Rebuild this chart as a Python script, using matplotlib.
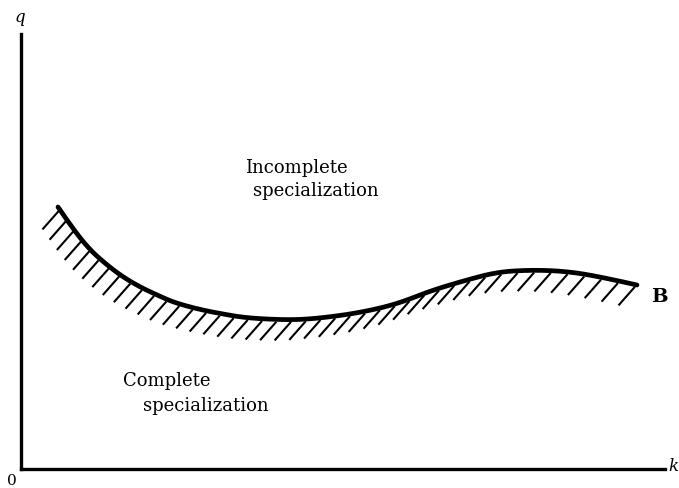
import matplotlib.pyplot as plt
import numpy as np

# curve B (k, q in pixel-like units from the origin)
k_vals = [37, 52, 69, 86, 102, 119, 136, 152, 169, 186, 202, 219, 242, 276,
          309, 342, 376, 409, 442, 476, 509, 542, 576, 616]
q_vals = [262, 240, 219, 204, 192, 182, 174, 167, 162, 158, 155, 152, 150, 149,
          152, 157, 165, 178, 188, 197, 199, 198, 193, 184]

fig = plt.figure(figsize=(6.79, 4.89), dpi=100)
ax = fig.add_axes([21 / 679, 19 / 489, 644 / 679, 435 / 489])
ax.set_xlim(0, 644)
ax.set_ylim(0, 435)
for s in ["top", "right"]:
    ax.spines[s].set_visible(False)
ax.spines["left"].set_linewidth(2.4)
ax.spines["bottom"].set_linewidth(2.4)
ax.set_xticks([])
ax.set_yticks([])

# smooth the drawn line: quadratic bezier pieces between midpoints of the read points
k = np.array(k_vals, float)
q = np.array(q_vals, float)
mk = np.concatenate([[k[0]], (k[1:-2] + k[2:-1]) / 2, [k[-1]]])
mq = np.concatenate([[q[0]], (q[1:-2] + q[2:-1]) / 2, [q[-1]]])
t = np.linspace(0, 1, 20)[:, None]
ck = ((1 - t) ** 2 * mk[:-1] + 2 * (1 - t) * t * k[1:-1] + t ** 2 * mk[1:]).T.ravel()
cq = ((1 - t) ** 2 * mq[:-1] + 2 * (1 - t) * t * q[1:-1] + t ** 2 * mq[1:]).T.ravel()
ax.plot(ck, cq, color="black", lw=3.4, solid_capstyle="round", solid_joinstyle="round")

# hatching on the lower side of the curve, gap widens a bit to the right
arc = np.concatenate([[0], np.cumsum(np.hypot(np.diff(ck), np.diff(cq)))])
s = 2.0
while s < arc[-1]:
    hx = np.interp(s, arc, ck)
    hy = np.interp(s, arc, cq)
    ax.plot([hx - 1, hx - 16], [hy - 3, hy - 20], color="black", lw=1.5)
    s += 12.5 + 5 * s / arc[-1]

serif = "DejaVu Serif"
ax.text(224, 470 - 168, "Incomplete", fontsize=13, family=serif, va="center")
ax.text(232, 470 - 191, "specialization", fontsize=13, family=serif, va="center")
ax.text(102, 470 - 381, "Complete", fontsize=13, family=serif, va="center")
ax.text(122, 470 - 406, "specialization", fontsize=13, family=serif, va="center")
ax.text(630, 470 - 297, "B", fontsize=14, family=serif, weight="bold", va="center", ha="left")

fig.text(20 / 679, 1 - 18 / 489, "q", fontsize=12, family=serif, style="italic", ha="center", va="center")
fig.text(678 / 679, 1 - 467 / 489, "k", fontsize=12, family=serif, style="italic", ha="right", va="center")
fig.text(12 / 679, 1 - 481 / 489, "0", fontsize=11, family=serif, ha="center", va="center")

fig.savefig("out.png", dpi=100)
